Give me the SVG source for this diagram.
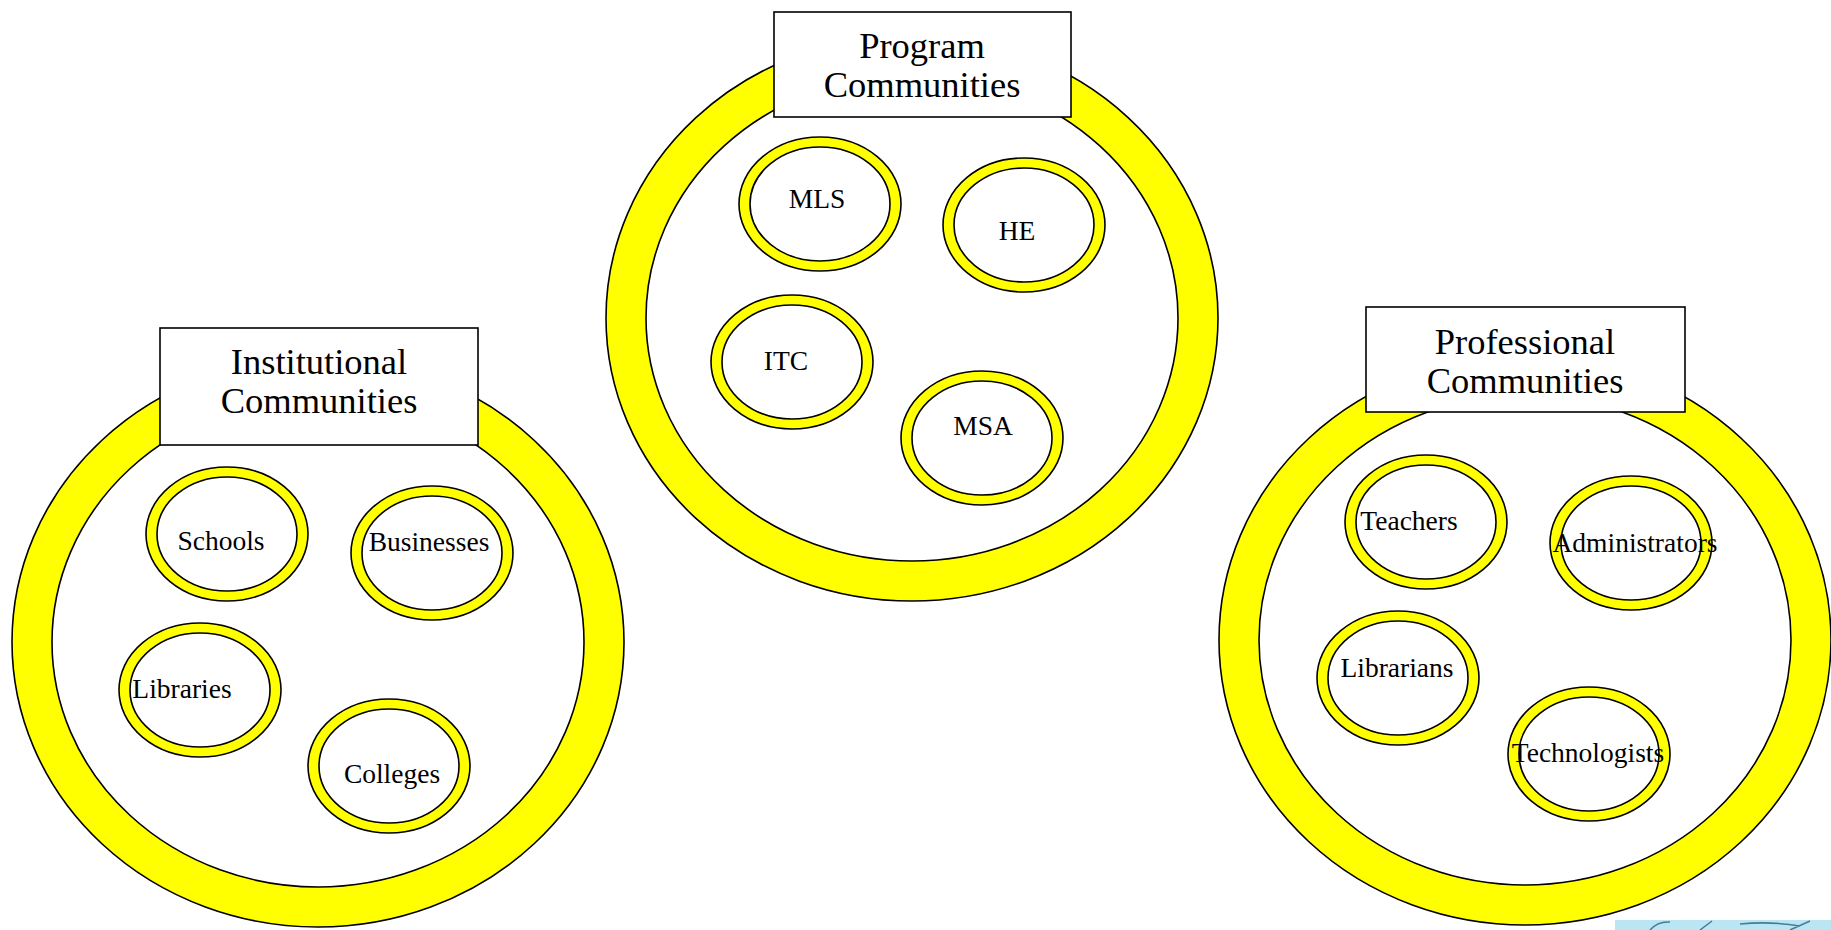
<svg xmlns="http://www.w3.org/2000/svg" width="1831" height="930" viewBox="0 0 1831 930">
<style>
.ring{fill:#ffff00;stroke:#000;stroke-width:1.6}
.hole{fill:#fff;stroke:#000;stroke-width:1.6}
.box{fill:#fff;stroke:#000;stroke-width:1.6}
text{font-family:'Liberation Serif','DejaVu Serif',serif;fill:#000;text-anchor:middle}
.title{font-size:36.5px}
.lbl{font-size:27.5px}
</style>
<rect width="1831" height="930" fill="#fff"/>
<g id="connectors"></g>

<!-- Program Communities -->
<g id="program">
  <ellipse class="ring" cx="912" cy="318" rx="306" ry="283"/>
  <ellipse class="hole" cx="912" cy="318" rx="266" ry="243"/>
  <rect class="box" x="774" y="12" width="297" height="105"/>
  <text class="title" x="922" y="58">Program</text>
  <text class="title" x="922" y="97">Communities</text>
</g>
<g id="mls">
  <ellipse class="ring" cx="820" cy="204" rx="81" ry="67"/>
  <ellipse class="hole" cx="820" cy="204" rx="70" ry="57"/>
  <text class="lbl" x="817" y="208">MLS</text>
</g>
<g id="he">
  <ellipse class="ring" cx="1024" cy="225" rx="81" ry="67"/>
  <ellipse class="hole" cx="1024" cy="225" rx="70" ry="57"/>
  <text class="lbl" x="1017" y="240">HE</text>
</g>
<g id="itc">
  <ellipse class="ring" cx="792" cy="362" rx="81" ry="67"/>
  <ellipse class="hole" cx="792" cy="362" rx="70" ry="57"/>
  <text class="lbl" x="786" y="370">ITC</text>
</g>
<g id="msa">
  <ellipse class="ring" cx="982" cy="438" rx="81" ry="67"/>
  <ellipse class="hole" cx="982" cy="438" rx="70" ry="57"/>
  <text class="lbl" x="983" y="435">MSA</text>
</g>

<!-- Institutional Communities -->
<g id="institutional">
  <ellipse class="ring" cx="318" cy="642" rx="306" ry="285"/>
  <ellipse class="hole" cx="318" cy="642" rx="266" ry="245"/>
  <rect class="box" x="160" y="328" width="318" height="117"/>
  <text class="title" x="319" y="374">Institutional</text>
  <text class="title" x="319" y="413">Communities</text>
</g>
<g id="schools">
  <ellipse class="ring" cx="227" cy="534" rx="81" ry="67"/>
  <ellipse class="hole" cx="227" cy="534" rx="70" ry="57"/>
  <text class="lbl" x="221" y="550">Schools</text>
</g>
<g id="businesses">
  <ellipse class="ring" cx="432" cy="553" rx="81" ry="67"/>
  <ellipse class="hole" cx="432" cy="553" rx="70" ry="57"/>
  <text class="lbl" x="429" y="551">Businesses</text>
</g>
<g id="libraries">
  <ellipse class="ring" cx="200" cy="690" rx="81" ry="67"/>
  <ellipse class="hole" cx="200" cy="690" rx="70" ry="57"/>
  <text class="lbl" x="182" y="698">Libraries</text>
</g>
<g id="colleges">
  <ellipse class="ring" cx="389" cy="766" rx="81" ry="67"/>
  <ellipse class="hole" cx="389" cy="766" rx="70" ry="57"/>
  <text class="lbl" x="392" y="783">Colleges</text>
</g>

<!-- Professional Communities -->
<g id="professional">
  <ellipse class="ring" cx="1525" cy="640" rx="306" ry="285"/>
  <ellipse class="hole" cx="1525" cy="640" rx="266" ry="245"/>
  <rect class="box" x="1366" y="307" width="319" height="105"/>
  <text class="title" x="1525" y="354">Professional</text>
  <text class="title" x="1525" y="393">Communities</text>
</g>
<g id="teachers">
  <ellipse class="ring" cx="1426" cy="522" rx="81" ry="67"/>
  <ellipse class="hole" cx="1426" cy="522" rx="70" ry="57"/>
  <text class="lbl" x="1409" y="530">Teachers</text>
</g>
<g id="administrators">
  <ellipse class="ring" cx="1631" cy="543" rx="81" ry="67"/>
  <ellipse class="hole" cx="1631" cy="543" rx="70" ry="57"/>
  <text class="lbl" x="1635" y="552">Administrators</text>
</g>
<g id="librarians">
  <ellipse class="ring" cx="1398" cy="678" rx="81" ry="67"/>
  <ellipse class="hole" cx="1398" cy="678" rx="70" ry="57"/>
  <text class="lbl" x="1397" y="677">Librarians</text>
</g>
<g id="technologists">
  <ellipse class="ring" cx="1589" cy="754" rx="81" ry="67"/>
  <ellipse class="hole" cx="1589" cy="754" rx="70" ry="57"/>
  <text class="lbl" x="1588" y="762">Technologists</text>
</g>

<!-- image fragment at bottom-right corner -->
<g id="corner-image">
  <rect x="1615" y="920" width="216" height="10" fill="#b9e6f2"/>
  <path d="M1650 930 Q1658 921 1670 922 M1700 930 L1712 921 M1740 924 Q1770 921 1800 926 M1790 930 L1810 921" fill="none" stroke="#4a7a9a" stroke-width="1.5"/>
</g>
</svg>
